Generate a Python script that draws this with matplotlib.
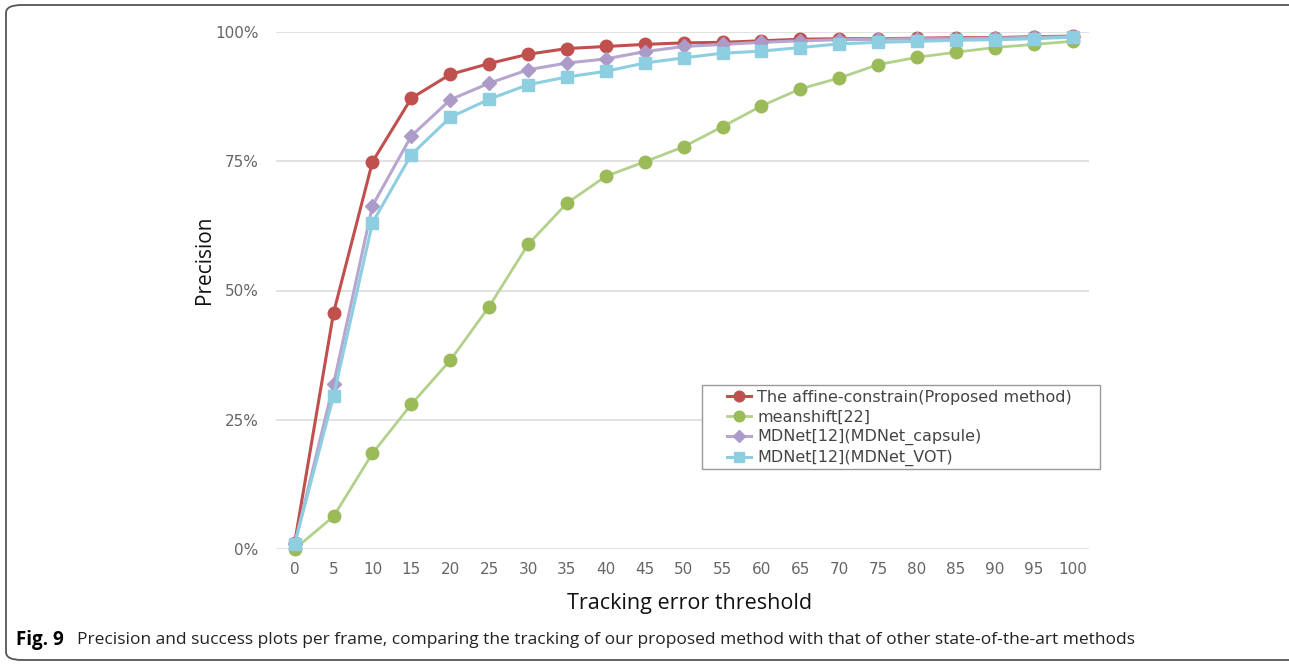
import matplotlib.pyplot as plt
import matplotlib.patches as mpatches
import numpy as np

# ── data ─────────────────────────────────────────────────────────────────────
thresholds = [0, 5, 10, 15, 20, 25, 30, 35, 40, 45, 50,
              55, 60, 65, 70, 75, 80, 85, 90, 95, 100]

affine = [1.2, 45.7, 74.9, 87.2, 91.8, 93.9, 95.7, 96.8, 97.2, 97.6, 97.9,
          98.0, 98.3, 98.6, 98.7, 98.7, 98.8, 98.9, 98.9, 99.1, 99.2]
meanshift = [0.0, 6.3, 18.5, 28.0, 36.5, 46.9, 58.9, 66.9, 72.1, 74.9, 77.8,
             81.7, 85.7, 89.0, 91.1, 93.7, 95.1, 96.1, 97.0, 97.6, 98.2]
capsule = [1.0, 31.9, 66.4, 79.9, 86.9, 90.1, 92.7, 94.0, 94.8, 96.2, 97.2,
           97.6, 98.0, 98.3, 98.5, 98.6, 98.7, 98.7, 98.8, 99.0, 99.1]
vot = [1.0, 29.6, 63.1, 76.3, 83.5, 87.0, 89.8, 91.3, 92.4, 94.0, 95.0,
       95.9, 96.3, 97.0, 97.7, 98.0, 98.2, 98.4, 98.5, 98.7, 99.0]

labels = ['The affine-constrain(Proposed method)', 'meanshift[22]',
          'MDNet[12](MDNet_capsule)', 'MDNet[12](MDNet_VOT)']
yticks = [0, 25, 50, 75, 100]

# ── figure ───────────────────────────────────────────────────────────────────
fig = plt.figure(figsize=(12.89, 6.68), dpi=100)
fig.patch.set_facecolor('white')

# rounded frame around figure + caption
frame = mpatches.FancyBboxPatch((6 / 1289, 8 / 668), 1300 / 1289, 655 / 668,
                                boxstyle='round,pad=0,rounding_size=0.012',
                                transform=fig.transFigure, fill=False,
                                edgecolor='#555555', lw=1.3, zorder=0)
fig.patches.append(frame)

ax = fig.add_axes([276 / 1289, 119 / 668, 813 / 1289, 517 / 668])
ax.set_facecolor('white')

styles = [
    dict(color='#C0504D', mfc='#C0504D', marker='o', ms=9, lw=2.2),
    dict(color='#B2D18A', mfc='#9BBB59', marker='o', ms=9, lw=2.0),
    dict(color='#B7A6CE', mfc='#AC9BC8', marker='D', ms=7, lw=2.2),
    dict(color='#8DCFE0', mfc='#8DCFE0', marker='s', ms=8, lw=2.2),
]
series = [affine, meanshift, capsule, vot]
order = [1, 3, 2, 0]  # draw red on top
handles = [None] * 4
for i in order:
    st = styles[i]
    h, = ax.plot(thresholds, series[i], color=st['color'], lw=st['lw'],
                 marker=st['marker'], ms=st['ms'], mfc=st['mfc'],
                 mec=st['mfc'], clip_on=False, label=labels[i], zorder=3 + i)
    handles[i] = h

ax.set_xlim(-2.4, 102.1)
ax.set_ylim(0, 100)
ax.set_xticks(thresholds)
ax.set_xticklabels([str(t) for t in thresholds])
ax.set_yticks(yticks)
ax.set_yticklabels([f'{v}%' for v in yticks])
ax.grid(axis='y', color='#DDDDDD', lw=1.2)
ax.set_axisbelow(True)
for sp in ax.spines.values():
    sp.set_visible(False)
ax.tick_params(length=0, labelsize=11, labelcolor='#666666')
ax.tick_params(axis='x', pad=9)
ax.tick_params(axis='y', pad=12.5)

ax.set_xlabel('Tracking error threshold', fontsize=15.5, color='#111111',
              family='Open Sans')
ax.xaxis.set_label_coords((690 - 276) / 813, -(603 - 549) / 517)
ax.set_ylabel('Precision', fontsize=15, color='#111111', family='Open Sans')
ax.yaxis.set_label_coords(-(276 - 205) / 813, (549 - 260) / 517)
ax.xaxis.label.set_va('center')
ax.yaxis.label.set_va('center')

# legend: frame drawn separately so the entries can sit inset
ax.add_patch(mpatches.Rectangle(((702 - 276) / 813, (549 - 469) / 517),
                                398 / 813, 84 / 517, transform=ax.transAxes,
                                facecolor='white', edgecolor='#999999',
                                lw=1.0, zorder=8, clip_on=False))
leg = ax.legend(handles=handles, loc='center left',
                bbox_to_anchor=((727 - 276) / 813, (549 - 428) / 517),
                fontsize=11.5, frameon=False, borderpad=0, labelspacing=0.3,
                handlelength=1.5, handletextpad=0.4, borderaxespad=0,
                markerscale=0.85)
leg.set_zorder(9)
for t in leg.get_texts():
    t.set_color('#444444')

# caption
fig.text(16 / 1289, 1 - 640 / 668, 'Fig. 9', fontsize=13.5, fontweight='bold',
         family='Open Sans', va='center', ha='left')
fig.text(77 / 1289, 1 - 640 / 668,
         'Precision and success plots per frame, comparing the tracking of our '
         'proposed method with that of other state-of-the-art methods',
         fontsize=12.5, family='Open Sans', va='center', ha='left',
         color='#222222')

plt.savefig('out.png', dpi=100, facecolor='white')
plt.close()
